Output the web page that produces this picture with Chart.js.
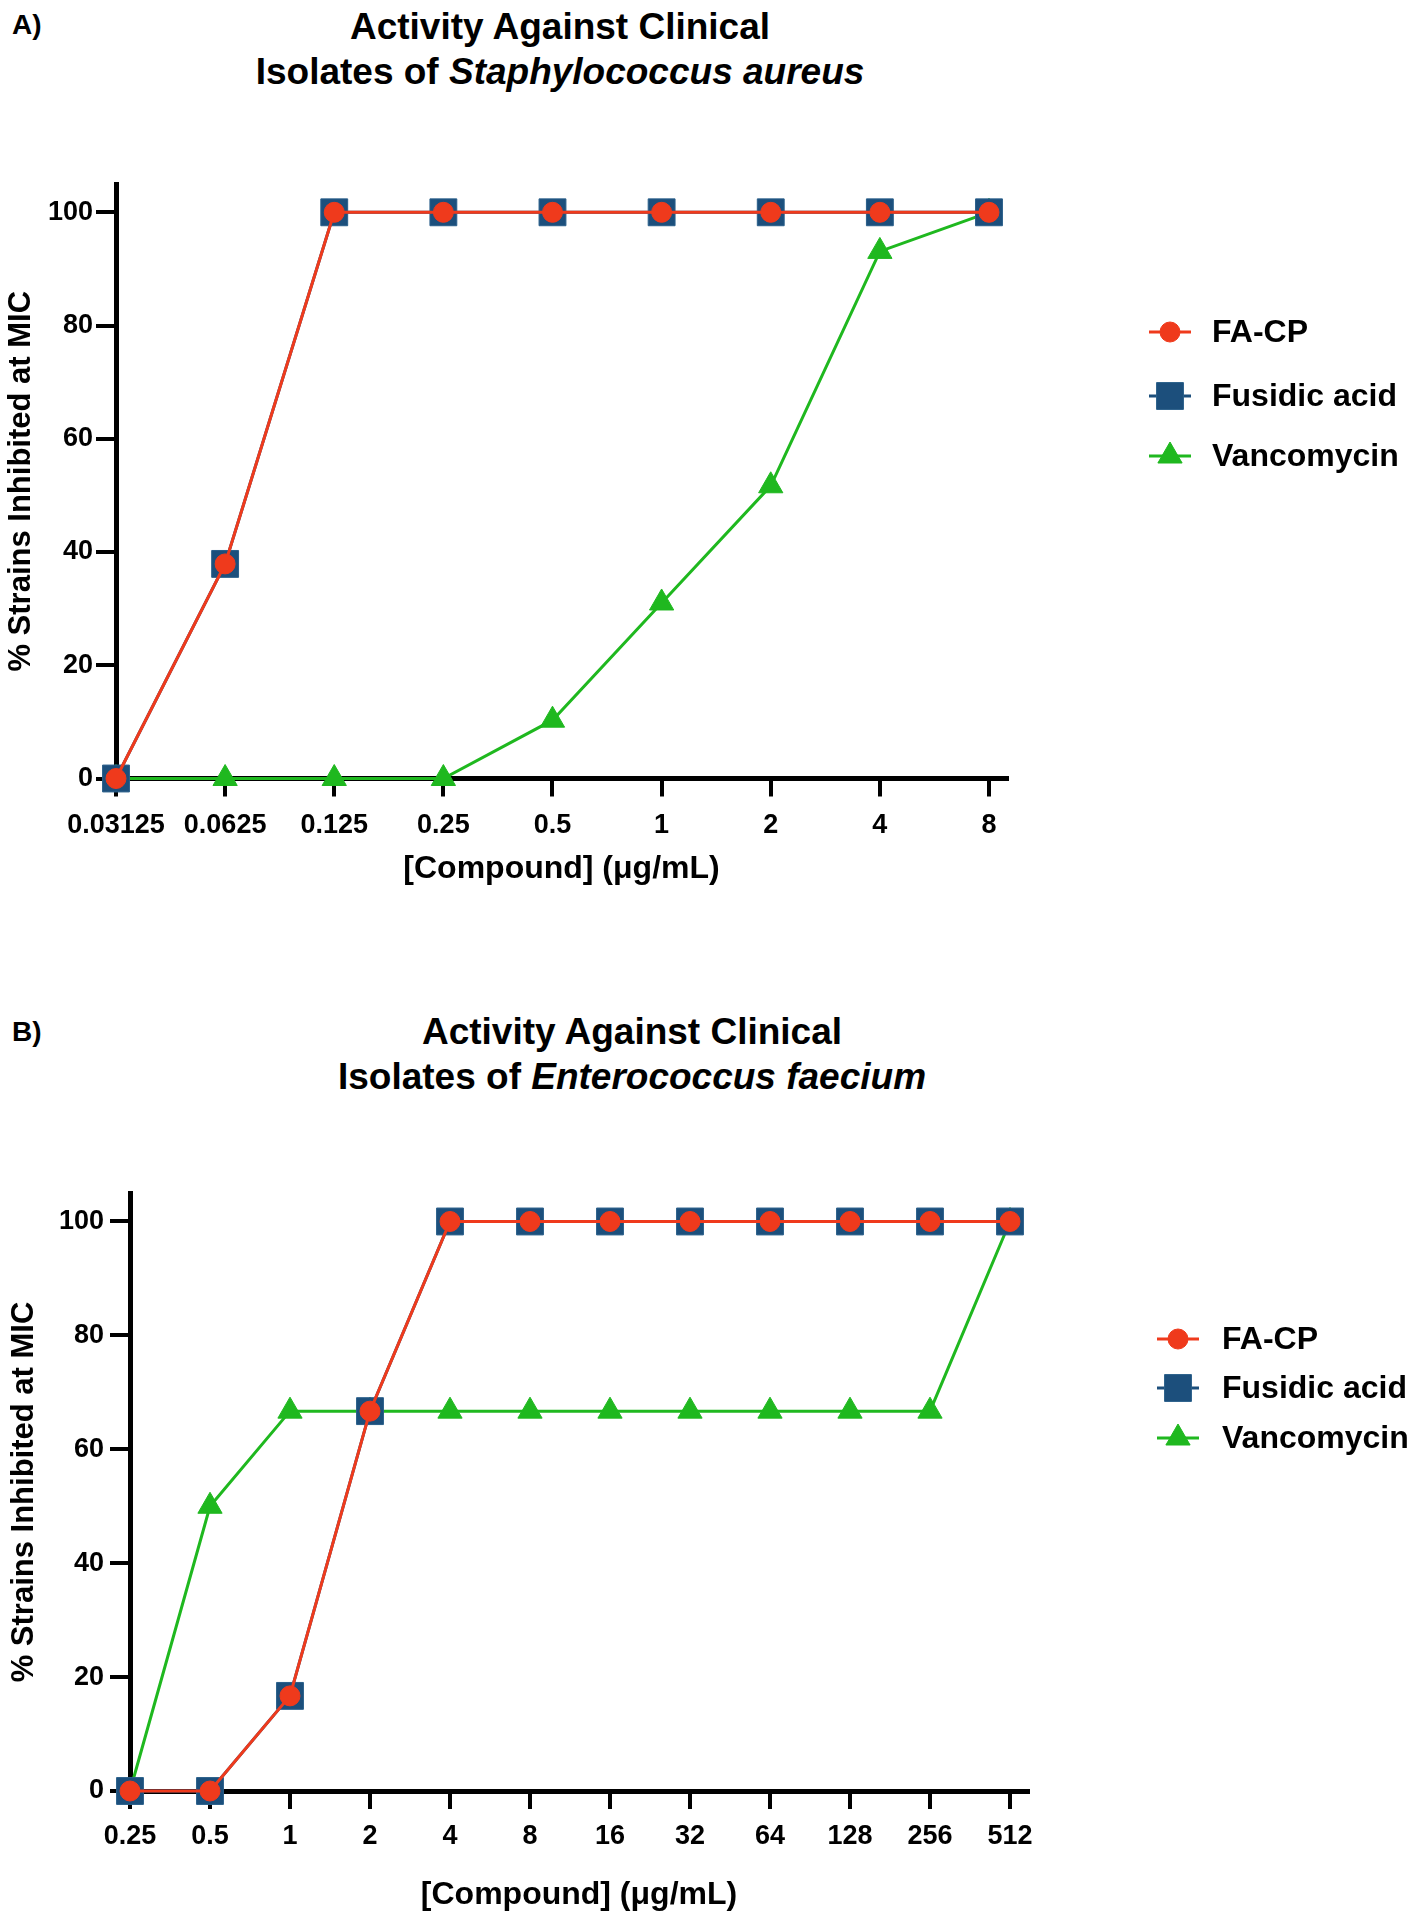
<!DOCTYPE html>
<html>
<head>
<meta charset="utf-8">
<script src="https://cdn.jsdelivr.net/npm/chart.js@4.4.1/dist/chart.umd.min.js"></script>
<style>
  body { margin: 0; background: #fff; width: 1417px; height: 1920px; position: relative; overflow: hidden;
         font-family: "Liberation Sans", Arial, sans-serif; color: #000; }
  .panel { position: absolute; font-weight: bold; font-size: 28px; line-height: 28px; }
  .title { position: absolute; font-weight: bold; font-size: 37px; line-height: 45px; text-align: center;
           transform: translateX(-50%); white-space: nowrap; }
  .box { position: absolute; left: 0; width: 1417px; }
</style>
</head>
<body>
<div class="panel" style="left:12px; top:11px;">A)</div>
<div class="title" style="left:560px; top:4px;">Activity Against Clinical<br>Isolates of <i>Staphylococcus aureus</i></div>
<div class="box" style="top:0; height:900px;"><canvas id="chartA" width="1417" height="900"></canvas></div>

<div class="panel" style="left:12px; top:1018px;">B)</div>
<div class="title" style="left:632px; top:1009px;">Activity Against Clinical<br>Isolates of <i>Enterococcus faecium</i></div>
<div class="box" style="top:930px; height:990px;"><canvas id="chartB" width="1417" height="990"></canvas></div>

<script>
// 資料 A: Staphylococcus aureus (n = 29)
var labelsA = ["0.03125", "0.0625", "0.125", "0.25", "0.5", "1", "2", "4", "8"];
var facpA = [0, 37.9, 100, 100, 100, 100, 100, 100, 100];
var fusidicA = [0, 37.9, 100, 100, 100, 100, 100, 100, 100];
var vancoA = [0, 0, 0, 0, 10.3, 31.0, 51.7, 93.1, 100];

// 資料 B: Enterococcus faecium (n = 6)
var labelsB = ["0.25", "0.5", "1", "2", "4", "8", "16", "32", "64", "128", "256", "512"];
var facpB = [0, 0, 16.7, 66.7, 100, 100, 100, 100, 100, 100, 100, 100];
var fusidicB = [0, 0, 16.7, 66.7, 100, 100, 100, 100, 100, 100, 100, 100];
var vancoB = [0, 50, 66.7, 66.7, 66.7, 66.7, 66.7, 66.7, 66.7, 66.7, 66.7, 100];

var yTicks = [0, 20, 40, 60, 80, 100];
var seriesNames = ["FA-CP", "Fusidic acid", "Vancomycin"];

var RED = "#ef3a1c", BLUE = "#1c4f7c", GREEN = "#1fb81f";
var FONT = "'Liberation Sans', Arial, sans-serif";

// 自訂圖例: 線段 + 標記
var markerLegend = {
    id: "markerLegend",
    afterDraw: function(chart, args, opts) {
        var ctx = chart.ctx;
        ctx.save();
        chart.data.datasets.forEach(function(ds, i) {
            var y = opts.rows[i];
            ctx.strokeStyle = ds.borderColor;
            ctx.lineWidth = 3;
            ctx.beginPath();
            ctx.moveTo(opts.x - 21, y);
            ctx.lineTo(opts.x + 21, y);
            ctx.stroke();
            ctx.fillStyle = ds.pointBackgroundColor;
            ctx.strokeStyle = ds.pointBorderColor;
            ctx.lineWidth = 1;
            Chart.helpers.drawPoint(ctx, { pointStyle: ds.pointStyle, radius: ds.pointRadius, rotation: 0, borderWidth: 1 }, opts.x, y);
            ctx.fillStyle = "#000";
            ctx.font = "bold " + opts.fontSize + "px " + FONT;
            ctx.textBaseline = "middle";
            ctx.textAlign = "left";
            ctx.fillText(seriesNames[i], opts.textX, y + 1);
        });
        ctx.restore();
    }
};

function makeChart(id, labels, facp, fusidic, vanco, lay) {
    var ctx = document.getElementById(id).getContext("2d");
    var toPts = function(arr) { return arr.map(function(v, i) { return { x: i, y: v }; }); };
    return new Chart(ctx, {
        type: "line",
        data: {
            datasets: [{
                label: seriesNames[0], data: toPts(facp),
                borderColor: RED, borderWidth: 3, pointStyle: "circle", pointRadius: 10,
                pointBackgroundColor: RED, pointBorderColor: RED, pointBorderWidth: 1, clip: false
            }, {
                label: seriesNames[1], data: toPts(fusidic),
                borderColor: BLUE, borderWidth: 3, pointStyle: "rect", pointRadius: 19,
                pointBackgroundColor: BLUE, pointBorderColor: "#2a5f8a", pointBorderWidth: 1, clip: false
            }, {
                label: seriesNames[2], data: toPts(vanco),
                borderColor: GREEN, borderWidth: 3, pointStyle: "triangle", pointRadius: 14,
                pointBackgroundColor: GREEN, pointBorderColor: GREEN, pointBorderWidth: 1, clip: false
            }]
        },
        options: {
            responsive: false,
            animation: false,
            events: [],
            layout: { padding: { left: 0, right: lay.padRight, top: lay.padTop, bottom: 0 } },
            plugins: {
                legend: { display: false },
                tooltip: { enabled: false },
                markerLegend: lay.legend
            },
            scales: {
                x: {
                    type: "linear",
                    min: 0,
                    max: labels.length - 1 + lay.xExtra,
                    afterBuildTicks: function(scale) {
                        scale.ticks = labels.map(function(l, i) { return { value: i }; });
                    },
                    afterFit: function(scale) { scale.height = lay.xHeight; },
                    ticks: {
                        autoSkip: false, maxRotation: 0, color: "#000", padding: lay.xTickPad,
                        font: { family: FONT, size: 27, weight: "bold" },
                        callback: function(v) { return labels[v]; }
                    },
                    grid: { drawOnChartArea: false, drawTicks: true, tickLength: 18, lineWidth: 4, color: "#000" },
                    border: { display: true, width: 5, color: "#000" },
                    title: {
                        display: true, text: "[Compound] (μg/mL)", color: "#000",
                        font: { family: FONT, size: 32, weight: "bold" },
                        padding: { top: 0, bottom: lay.xTitlePad }
                    }
                },
                y: {
                    min: 0,
                    max: 105,
                    afterBuildTicks: function(scale) {
                        scale.ticks = yTicks.map(function(v) { return { value: v }; });
                    },
                    afterFit: function(scale) { scale.width = lay.yWidth; },
                    ticks: {
                        color: "#000", padding: lay.yTickPad,
                        font: { family: FONT, size: 27, weight: "bold" }
                    },
                    grid: { drawOnChartArea: false, drawTicks: true, tickLength: 20, lineWidth: 4, color: "#000" },
                    border: { display: true, width: 5, color: "#000" },
                    title: {
                        display: true, text: "% Strains Inhibited at MIC", color: "#000",
                        font: { family: FONT, size: 31, weight: "bold" },
                        padding: { top: lay.yTitlePad, bottom: 0 }
                    }
                }
            }
        },
        plugins: [markerLegend]
    });
}

document.addEventListener("DOMContentLoaded", function() {
    makeChart("chartA", labelsA, facpA, fusidicA, vancoA, {
        padRight: 410, padTop: 184, xHeight: 121.5, xExtra: 0.165, yWidth: 116,
        xTickPad: 13, yTickPad: 3, xTitlePad: 12, yTitlePad: 3,
        legend: { x: 1170, textX: 1212, rows: [332, 396, 456], fontSize: 32 }
    });
    makeChart("chartB", labelsB, facpB, fusidicB, vancoB, {
        padRight: 389, padTop: 263, xHeight: 129, xExtra: 0.225, yWidth: 130,
        xTickPad: 11, yTickPad: 6, xTitlePad: 6, yTitlePad: 6,
        legend: { x: 1178, textX: 1222, rows: [409, 458, 508], fontSize: 32 }
    });
});
</script>
</body>
</html>
